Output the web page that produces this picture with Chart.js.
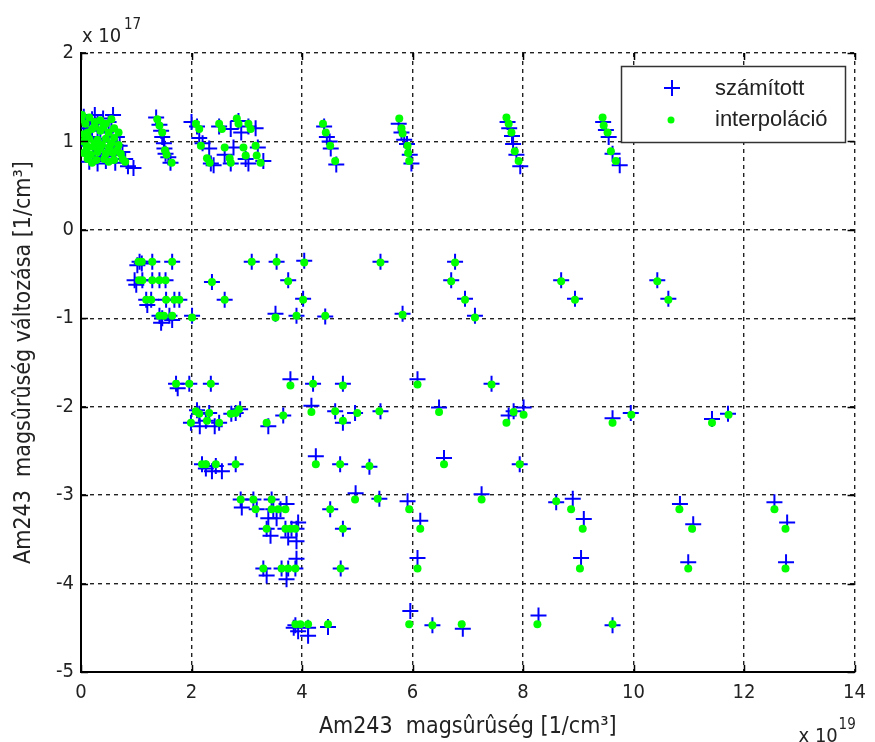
<!DOCTYPE html>
<html>
<head>
<meta charset="utf-8">
<title>Am243 magsûrûség</title>
<script src="https://cdn.jsdelivr.net/npm/chart.js"></script>
<style>
body{
  margin:0;
  background:#fff;
}
#wrap{
  width:875px;
  height:742px;
}
</style>
</head>
<body>

<div id="wrap"><canvas id="chart" width="875" height="742"></canvas></div>

<script>

// ================= DATA =================
// x in 1e19 1/cm3, y in 1e17 1/cm3

const xTicks = [0, 2, 4, 6, 8, 10, 12, 14];
const yTicks = [-5, -4, -3, -2, -1, 0, 1, 2];

const seriesNames = ["számított", "interpoláció"];

// számított - upper band
const calcUpper = [
  [0.05,1.28],[0.1,1.22],[0.2,1.25],[0.3,1.2],[0.4,1.26],[0.5,1.22],[0.55,1.12],[0.45,1.1],
  [0.3,1.12],[0.15,1.15],[0.05,1.1],[0.08,1.02],[0.2,1.05],[0.35,1.03],[0.5,1.0],[0.65,1.05],
  [0.12,0.95],[0.25,0.92],[0.4,0.95],[0.55,0.92],[0.7,0.95],[0.1,0.85],[0.22,0.82],[0.35,0.86],
  [0.48,0.83],[0.6,0.85],[0.75,0.88],[0.15,0.77],[0.3,0.75],[0.45,0.78],[0.62,0.76],[0.8,0.8],
  [0.85,0.72],[0.58,1.3],[0.25,1.3],[0.95,0.7],
  [1.36,1.27],[1.42,1.19],[1.45,1.12],[1.47,1.05],[1.5,0.98],[1.51,0.92],[1.53,0.86],[1.58,0.82],[1.62,0.76],
  [2.0,1.22],[2.1,1.17],[2.14,1.04],[2.2,0.98],[2.32,0.92],[2.35,0.75],[2.4,0.73],
  [2.5,1.17],[2.71,1.14],[2.76,0.93],[2.71,0.75],[2.6,0.85],
  [2.85,1.23],[2.9,1.1],[2.98,0.8],[3.03,1.17],[3.16,1.15],[3.2,0.93],[3.3,0.78],[3.03,0.75],
  [4.4,1.17],[4.45,1.05],[4.5,1.0],[4.52,0.92],[4.62,0.74],
  [5.75,1.2],[5.8,1.1],[5.85,1.02],[5.9,0.97],[5.95,0.85],[5.98,0.75],
  [7.72,1.22],[7.75,1.15],[7.8,1.06],[7.82,0.97],[7.88,0.85],[7.95,0.72],
  [9.45,1.22],[9.5,1.13],[9.55,1.05],[9.62,0.86],[9.75,0.73]
];

// számított - rows between -0.3 and -1
const calcMid = [
  [1.06,-0.36],[1.02,-0.4],[1.1,-0.38],[1.29,-0.36],[1.65,-0.36],[3.09,-0.36],[3.54,-0.36],[4.04,-0.35],[5.42,-0.36],[6.77,-0.36],
  [0.97,-0.57],[1.0,-0.62],[1.11,-0.57],[1.29,-0.57],[1.42,-0.57],[1.53,-0.57],[2.37,-0.59],[3.75,-0.57],[6.7,-0.57],[8.69,-0.57],[10.43,-0.57],
  [1.18,-0.79],[1.2,-0.85],[1.27,-0.79],[1.54,-0.79],[1.69,-0.79],[1.78,-0.79],[2.6,-0.79],[4.02,-0.78],[6.95,-0.78],[8.94,-0.78],[10.63,-0.78],
  [1.42,-0.97],[1.45,-1.05],[1.47,-1.0],[1.6,-0.97],[1.65,-1.02],[2.01,-0.97],[3.52,-0.95],[3.9,-0.97],[4.42,-0.98],[5.82,-0.95],[7.13,-0.97]
];

// számított - rows between -1.7 and -4.6
const calcLow = [
  [1.72,-1.74],[1.75,-1.79],[1.96,-1.74],[2.35,-1.74],[3.79,-1.69],[4.2,-1.74],[4.74,-1.74],[6.09,-1.69],[7.43,-1.74],
  [2.1,-2.04],[2.14,-2.08],[2.32,-2.07],[1.99,-2.18],[2.26,-2.16],[2.5,-2.18],[2.72,-2.08],[2.8,-2.07],[2.88,-2.03],
  [2.15,-2.22],[2.42,-2.22],[3.39,-2.22],[3.66,-2.1],[4.17,-1.99],[4.6,-2.05],[4.74,-2.18],[4.96,-2.07],[5.42,-2.05],
  [6.48,-2.01],[7.74,-2.1],[7.83,-2.05],[8.01,-2.01],[9.62,-2.13],[9.95,-2.07],[11.42,-2.14],[11.71,-2.08],
  [2.19,-2.65],[2.26,-2.7],[2.37,-2.73],[2.44,-2.67],[2.55,-2.73],[2.8,-2.65],[4.25,-2.56],[4.69,-2.65],[5.22,-2.68],[6.57,-2.58],[7.94,-2.65],
  [2.89,-3.05],[3.12,-3.05],[2.91,-3.14],[3.18,-3.16],[3.45,-3.05],[3.48,-3.16],[3.61,-3.16],[3.72,-3.1],[3.39,-3.26],[3.54,-3.26],
  [3.93,-3.31],[4.51,-3.16],[4.74,-3.38],[4.97,-2.98],[5.4,-3.04],[5.91,-3.07],[6.14,-3.29],[7.25,-2.99],[8.6,-3.08],[8.9,-3.04],
  [9.1,-3.27],[10.84,-3.1],[11.08,-3.33],[12.55,-3.08],[12.78,-3.31],
  [3.36,-3.38],[3.7,-3.38],[3.81,-3.38],[3.9,-3.38],[3.43,-3.46],[3.75,-3.48],[3.9,-3.52],
  [3.3,-3.83],[3.63,-3.83],[3.75,-3.83],[3.88,-3.83],[3.36,-3.91],[3.72,-3.95],[3.9,-3.72],[4.7,-3.83],[6.09,-3.71],[9.05,-3.71],[10.99,-3.76],[12.76,-3.76],
  [3.85,-4.5],[3.88,-4.47],[3.93,-4.54],[4.11,-4.5],[4.11,-4.59],[4.47,-4.49],[5.96,-4.31],[6.36,-4.47],[6.91,-4.51],[8.28,-4.36],[9.62,-4.47]
];

// interpoláció - upper band
const interpUpper = [
  [0.0,1.25],[0.08,1.2],[0.15,1.27],[0.25,1.22],[0.35,1.24],[0.45,1.2],[0.55,1.25],[0.6,1.15],[0.5,1.1],
  [0.35,1.12],[0.2,1.14],[0.05,1.08],[0.15,1.03],[0.3,1.02],[0.45,1.03],[0.6,1.04],[0.1,0.95],
  [0.22,0.94],[0.38,0.96],[0.52,0.94],[0.68,0.96],[0.05,0.87],[0.18,0.85],[0.3,0.88],[0.45,0.86],
  [0.58,0.87],[0.72,0.86],[0.12,0.8],[0.28,0.79],[0.42,0.8],[0.6,0.79],[0.75,0.8],
  [0.02,1.3],[0.12,1.1],[0.25,1.17],[0.4,1.16],[0.05,1.0],[0.25,0.98],[0.55,0.98],[0.35,0.92],
  [0.1,0.9],[0.5,0.9],[0.65,0.9],[0.2,0.76],[0.5,0.77],[0.8,0.77],[0.68,1.1],
  [1.38,1.25],[1.42,1.18],[1.47,1.1],[1.52,0.9],[1.55,0.85],[1.64,0.76],
  [2.08,1.2],[2.14,1.14],[2.17,0.95],[2.28,0.81],[2.33,0.76],
  [2.5,1.2],[2.55,1.14],[2.6,0.93],[2.69,0.81],[2.71,0.76],
  [2.82,1.26],[2.85,1.2],[2.94,0.93],[2.98,0.84],
  [3.03,1.2],[3.07,1.14],[3.16,0.95],[3.18,0.84],[3.25,0.76],
  [4.38,1.2],[4.43,1.1],[4.51,0.95],[4.6,0.78],
  [5.76,1.26],[5.8,1.15],[5.82,1.09],[5.91,0.95],[5.92,0.87],[5.94,0.78],
  [7.7,1.27],[7.74,1.2],[7.79,1.1],[7.85,0.89],[7.92,0.78],
  [9.44,1.27],[9.46,1.18],[9.53,1.1],[9.59,0.89],[9.68,0.78]
];

// interpoláció - rows between -0.3 and -1
const interpMid = [
  [1.04,-0.36],[1.1,-0.36],[1.29,-0.36],[1.65,-0.36],[3.09,-0.36],[3.54,-0.36],[4.04,-0.37],[5.42,-0.37],[6.77,-0.37],
  [1.05,-0.57],[1.11,-0.57],[1.29,-0.57],[1.42,-0.57],[1.53,-0.57],[2.37,-0.59],[3.75,-0.58],[6.7,-0.58],[8.69,-0.58],[10.43,-0.58],
  [1.18,-0.79],[1.27,-0.79],[1.54,-0.79],[1.69,-0.79],[1.78,-0.79],[2.6,-0.79],[4.02,-0.79],[6.95,-0.79],[8.94,-0.79],[10.63,-0.79],
  [1.42,-0.97],[1.5,-0.97],[1.65,-0.97],[2.01,-0.99],[3.52,-0.99],[3.9,-0.97],[4.42,-0.97],[5.82,-0.96],[7.13,-0.99]
];

// interpoláció - rows between -1.7 and -4.6
const interpLow = [
  [1.72,-1.74],[1.96,-1.74],[2.35,-1.74],[3.79,-1.76],[4.2,-1.74],[4.74,-1.76],[6.09,-1.75],[7.43,-1.75],
  [2.08,-2.05],[2.14,-2.08],[2.32,-2.07],[1.99,-2.18],[2.28,-2.16],[2.5,-2.18],[2.71,-2.08],[2.8,-2.07],[2.86,-2.03],
  [3.36,-2.18],[3.66,-2.1],[4.17,-2.06],[4.6,-2.05],[4.74,-2.16],[5.0,-2.07],[5.4,-2.05],[6.48,-2.06],
  [7.7,-2.18],[7.83,-2.06],[8.01,-2.09],[9.62,-2.18],[9.96,-2.09],[11.42,-2.18],[11.72,-2.09],
  [2.19,-2.65],[2.26,-2.65],[2.44,-2.65],[2.8,-2.65],[4.25,-2.65],[4.69,-2.65],[5.22,-2.67],[6.57,-2.65],[7.94,-2.65],
  [2.89,-3.05],[3.12,-3.05],[3.16,-3.16],[3.45,-3.05],[3.45,-3.16],[3.57,-3.16],[3.7,-3.16],[4.51,-3.16],[4.74,-3.38],
  [4.96,-3.05],[5.37,-3.04],[5.94,-3.16],[6.14,-3.38],[7.25,-3.05],[8.6,-3.07],[8.87,-3.16],[9.08,-3.38],
  [10.83,-3.16],[11.06,-3.38],[12.55,-3.16],[12.75,-3.38],
  [3.36,-3.38],[3.7,-3.38],[3.79,-3.38],[3.88,-3.38],
  [3.3,-3.83],[3.63,-3.83],[3.75,-3.83],[3.88,-3.83],[4.7,-3.83],[6.09,-3.83],[9.03,-3.83],[10.99,-3.83],[12.75,-3.83],
  [3.88,-4.46],[3.97,-4.46],[4.11,-4.46],[4.47,-4.46],[5.94,-4.46],[6.36,-4.47],[6.89,-4.46],[8.26,-4.46],[9.62,-4.46]
];

// ================= HELPERS =================
const FONT = "'Liberation Sans Narrow','DejaVu Sans Condensed','Liberation Sans',Arial,sans-serif";
const LEGEND_FONT = "'Liberation Sans',Arial,sans-serif";

function toPoints(list){
  return list.map(p => ({x:p[0], y:p[1]}));
}

// inward tick marks on all four sides, like the matlab box
const innerTicks = {
  id:'innerTicks',
  afterDatasetsDraw(chart){
    const ctx = chart.ctx;
    const a = chart.chartArea;
    const xs = chart.scales.x, ys = chart.scales.y;
    const L = 7;
    ctx.save();
    ctx.strokeStyle = '#000';
    ctx.lineWidth = 1.5;
    ctx.beginPath();
    xTicks.forEach(v => {
      const px = Math.round(xs.getPixelForValue(v)) + 0.5;
      ctx.moveTo(px, a.bottom); ctx.lineTo(px, a.bottom - L);
      ctx.moveTo(px, a.top); ctx.lineTo(px, a.top + L);
    });
    yTicks.forEach(v => {
      const py = Math.round(ys.getPixelForValue(v)) + 0.5;
      ctx.moveTo(a.left, py); ctx.lineTo(a.left + L, py);
      ctx.moveTo(a.right, py); ctx.lineTo(a.right - L, py);
    });
    ctx.stroke();
    ctx.restore();
  }
};

// "x 10^n" exponent labels
const exponents = {
  id:'exponents',
  afterDraw(chart){
    const ctx = chart.ctx;
    const a = chart.chartArea;
    ctx.save();
    ctx.fillStyle = '#222';
    ctx.textBaseline = 'alphabetic';
    ctx.textAlign = 'left';
    ctx.font = '20px ' + FONT;
    ctx.fillText('x 10', a.left + 1, 42);
    ctx.fillText('x 10', a.right - 56, 742);
    ctx.font = '15px ' + FONT;
    ctx.fillText('17', a.left + 43, 29);
    ctx.fillText('19', a.right - 16, 729);
    ctx.restore();
  }
};

// boxed legend inside the plot, top right
const boxLegend = {
  id:'boxLegend',
  afterDraw(chart){
    const ctx = chart.ctx;
    const bx = 621, by = 66, bw = 224, bh = 76;
    ctx.save();
    ctx.fillStyle = '#fff';
    ctx.fillRect(bx, by, bw, bh);
    ctx.strokeStyle = '#333';
    ctx.lineWidth = 1.5;
    ctx.strokeRect(bx + 0.5, by + 0.5, bw, bh);

    // számított: blue cross
    ctx.strokeStyle = '#0000ff';
    ctx.lineWidth = 2;
    ctx.beginPath();
    ctx.moveTo(664, 88); ctx.lineTo(680, 88);
    ctx.moveTo(672, 80); ctx.lineTo(672, 96);
    ctx.stroke();

    // interpoláció: green dot
    ctx.fillStyle = '#00ff00';
    ctx.beginPath();
    ctx.arc(671, 120, 3.5, 0, Math.PI * 2);
    ctx.fill();

    ctx.fillStyle = '#222';
    ctx.font = '22px ' + LEGEND_FONT;
    ctx.textBaseline = 'middle';
    ctx.fillText(seriesNames[0], 715, 89);
    ctx.fillText(seriesNames[1], 715, 120);
    ctx.restore();
  }
};

// ================= CHART =================
const chart = new Chart(document.getElementById('chart'), {
  type:'scatter',
  data:{
    datasets:[
      {
        label:seriesNames[1],
        data:toPoints(interpUpper.concat(interpMid, interpLow)),
        pointStyle:'circle',
        pointRadius:4,
        backgroundColor:'#00ff00',
        borderColor:'#00ff00',
        borderWidth:0,
        order:0
      },
      {
        label:seriesNames[0],
        data:toPoints(calcUpper.concat(calcMid, calcLow)),
        pointStyle:'cross',
        pointRadius:8,
        borderColor:'#0000ff',
        borderWidth:2,
        order:1
      }
    ]
  },
  options:{
    responsive:false,
    animation:false,
    layout:{padding:{left:0, top:53, right:14, bottom:0}},
    plugins:{
      legend:{display:false},
      tooltip:{enabled:false}
    },
    scales:{
      x:{
        type:'linear',
        min:0, max:14,
        afterBuildTicks(s){ s.ticks = xTicks.map(v => ({value:v})); },
        afterFit(s){ s.height = 70; },
        ticks:{
          color:'#222',
          padding:9,
          font:{family:FONT, size:20},
          maxRotation:0
        },
        grid:{color:'#222', lineWidth:1.4, drawTicks:false},
        border:{display:true, color:'#000', width:2, dash:[4,4]},
        title:{
          display:true,
          text:'Am243  magsûrûség [1/cm³]',
          color:'#222',
          font:{family:FONT, size:23},
          padding:{top:0, bottom:1}
        }
      },
      y:{
        type:'linear',
        min:-5, max:2,
        afterBuildTicks(s){ s.ticks = yTicks.map(v => ({value:v})); },
        afterFit(s){ s.width = 81; },
        ticks:{
          color:'#222',
          padding:7,
          font:{family:FONT, size:20}
        },
        grid:{color:'#222', lineWidth:1.4, drawTicks:false},
        border:{display:true, color:'#000', width:2, dash:[4,4]},
        title:{
          display:true,
          text:'Am243  magsûrûség változása [1/cm³]',
          color:'#222',
          font:{family:FONT, size:23},
          padding:{top:10, bottom:0}
        }
      }
    }
  },
  plugins:[innerTicks, exponents, boxLegend]
});

</script>

</body>
</html>
